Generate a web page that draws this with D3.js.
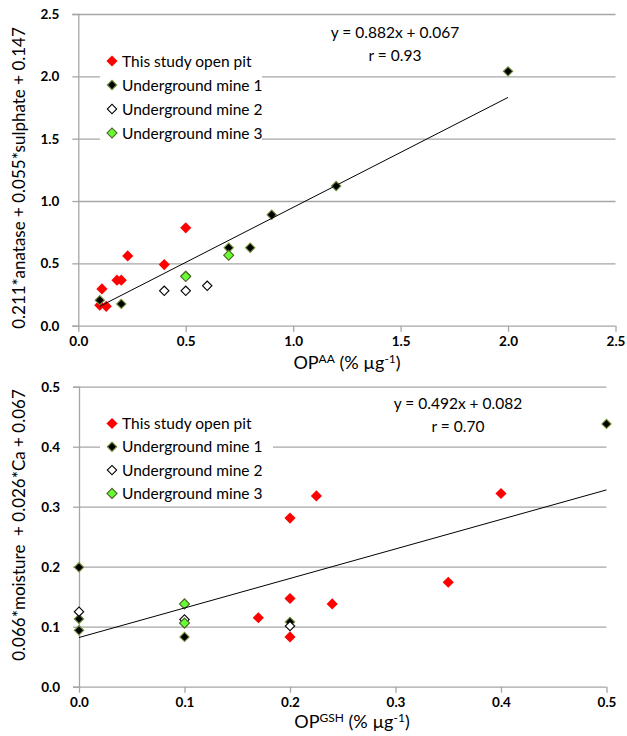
<!DOCTYPE html>
<html>
<head>
<meta charset="utf-8">
<script src="https://cdn.jsdelivr.net/npm/d3@7"></script>
<style>
  html, body { margin: 0; padding: 0; background: #fff; }
  svg { display: block; }
  text { font-family: Lato, "Open Sans", sans-serif; fill: #000; }
  .tick-label { font-weight: bold; font-size: 13.5px; }
</style>
</head>
<body>
<svg id="chart" width="627" height="736"></svg>
<script>
// ---- Panel A: OP(AA) vs anatase/sulphate model ----
const seriesNames = ["This study open pit", "Underground mine 1", "Underground mine 2", "Underground mine 3"];

const aaOpenPitX = [0.10, 0.11, 0.13, 0.18, 0.20, 0.23, 0.40, 0.50];
const aaOpenPitY = [0.165, 0.295, 0.155, 0.365, 0.365, 0.56, 0.49, 0.785];
const aaMine1X = [0.10, 0.20, 0.50, 0.70, 0.80, 0.90, 1.20, 2.00];
const aaMine1Y = [0.205, 0.175, 0.40, 0.625, 0.625, 0.89, 1.12, 2.04];
const aaMine2X = [0.40, 0.50, 0.60];
const aaMine2Y = [0.28, 0.28, 0.32];
const aaMine3X = [0.50, 0.70];
const aaMine3Y = [0.395, 0.565];
const aaFit = { slope: 0.882, intercept: 0.067, r: "0.93", xFrom: 0.1, xTo: 2.0 };
const aaTicks = [0, 0.5, 1.0, 1.5, 2.0, 2.5];

// ---- Panel B: OP(GSH) vs moisture/Ca model ----
const gshOpenPitX = [0.17, 0.20, 0.20, 0.20, 0.225, 0.24, 0.35, 0.40];
const gshOpenPitY = [0.115, 0.147, 0.083, 0.281, 0.318, 0.138, 0.174, 0.322];
const gshMine1X = [0.0, 0.0, 0.0, 0.1, 0.2, 0.5];
const gshMine1Y = [0.199, 0.113, 0.094, 0.083, 0.108, 0.438];
const gshMine2X = [0.0, 0.1, 0.2];
const gshMine2Y = [0.125, 0.112, 0.101];
const gshMine3X = [0.1, 0.1];
const gshMine3Y = [0.138, 0.106];
const gshFit = { slope: 0.492, intercept: 0.082, r: "0.70", xFrom: 0.0, xTo: 0.5 };
const gshTicks = [0, 0.1, 0.2, 0.3, 0.4, 0.5];

// marker styles per series
const styles = [
  { fill: "#ff0000", stroke: "none", size: 62 },
  { fill: "#000000", stroke: "#76923c", size: 44 },
  { fill: "#ffffff", stroke: "#000000", size: 44 },
  { fill: "#66ff33", stroke: "#4f6228", size: 50 }
];

const svg = d3.select("#chart");
const gridColor = "#a6a6a6";

function zip(xs, ys) { return xs.map((x, i) => ({ x, y: ys[i] })); }

function drawPanel(cfg) {
  const g = svg.append("g");
  const x = d3.scaleLinear().domain([cfg.ticks[0], cfg.ticks[cfg.ticks.length - 1]]).range(cfg.xRange);
  const y = d3.scaleLinear().domain([cfg.ticks[0], cfg.ticks[cfg.ticks.length - 1]]).range(cfg.yRange);

  // horizontal gridlines
  g.append("g").selectAll("line").data(cfg.ticks.slice(1)).join("line")
    .attr("x1", cfg.xRange[0]).attr("x2", cfg.xRange[1])
    .attr("y1", d => y(d) + 0.5).attr("y2", d => y(d) + 0.5)
    .attr("stroke", gridColor).attr("stroke-width", 1.3);

  // axes
  const xAxis = d3.axisBottom(x).tickValues(cfg.ticks).tickFormat(cfg.fmt).tickSize(6).tickPadding(5);
  const yAxis = d3.axisLeft(y).tickValues(cfg.ticks).tickFormat(cfg.fmt).tickSize(6).tickPadding(13);
  const gx = g.append("g").attr("transform", `translate(0,${cfg.yRange[0]})`).call(xAxis);
  const gy = g.append("g").attr("transform", `translate(${cfg.xRange[0]},0)`).call(yAxis);
  [gx, gy].forEach(a => {
    a.select(".domain").attr("stroke", gridColor).attr("stroke-width", 1.3);
    a.selectAll(".tick line").attr("stroke", gridColor).attr("stroke-width", 1.3);
    a.selectAll(".tick text").attr("class", "tick-label").attr("fill", "#000");
  });
  gx.select(".domain").attr("d", `M${cfg.xRange[0]},0.5H${cfg.xRange[1]}`);

  // legend box (white, covers gridlines)
  g.append("rect").attr("x", cfg.legend.x).attr("y", cfg.legend.y)
    .attr("width", cfg.legend.w).attr("height", cfg.legend.h).attr("fill", "#fff");

  // points
  const sym = d3.symbol().type(d3.symbolSquare);
  cfg.series.forEach((pts, si) => {
    const st = styles[si];
    g.append("g").selectAll("path").data(pts).join("path")
      .attr("d", sym.size(st.size)())
      .attr("transform", d => `translate(${x(d.x)},${y(d.y)}) rotate(45)`)
      .attr("fill", st.fill).attr("stroke", st.stroke).attr("stroke-width", 1.1);
  });

  // regression line
  const f = cfg.fit;
  g.append("line")
    .attr("x1", x(f.xFrom)).attr("y1", y(f.slope * f.xFrom + f.intercept))
    .attr("x2", x(f.xTo)).attr("y2", y(f.slope * f.xTo + f.intercept))
    .attr("stroke", "#000").attr("stroke-width", 1);

  // equation
  g.append("text").attr("x", cfg.eq.x).attr("y", cfg.eq.y).attr("text-anchor", "middle")
    .attr("font-size", 15.5)
    .text(`y = ${f.slope.toFixed(3)}x + ${f.intercept.toFixed(3)}`);
  g.append("text").attr("x", cfg.eq.x).attr("y", cfg.eq.y + 23).attr("text-anchor", "middle")
    .attr("font-size", 15.5)
    .text(`r = ${f.r}`);

  // legend entries
  seriesNames.forEach((name, i) => {
    const st = styles[i];
    const ly = cfg.legend.row0 + i * cfg.legend.step;
    g.append("path").attr("d", sym.size(st.size)())
      .attr("transform", `translate(${cfg.legend.mx},${ly}) rotate(45)`)
      .attr("fill", st.fill).attr("stroke", st.stroke).attr("stroke-width", 1.1);
    g.append("text").attr("x", cfg.legend.mx + 10).attr("y", ly + 5.5)
      .attr("font-size", 15.5).text(name);
  });

  // axis titles
  const xt = g.append("text").attr("x", cfg.xTitle.x).attr("y", cfg.xTitle.y)
    .attr("text-anchor", "middle").attr("font-size", 18);
  xt.append("tspan").text("OP");
  xt.append("tspan").attr("font-size", 12).attr("dy", -6).text(cfg.xTitle.sup);
  xt.append("tspan").attr("dy", 6).text(" (% µg");
  xt.append("tspan").attr("font-size", 12).attr("dy", -6).text("-1");
  xt.append("tspan").attr("dy", 6).text(")");

  g.append("text").attr("transform", `translate(${cfg.yTitle.x},${cfg.yTitle.y}) rotate(-90)`)
    .attr("text-anchor", "middle").attr("font-size", 17).attr("xml:space", "preserve")
    .text(cfg.yTitle.text);
}

drawPanel({
  ticks: aaTicks,
  fmt: d3.format(".1f"),
  xRange: [78.3, 615.5],
  yRange: [325.7, 14],
  series: [zip(aaOpenPitX, aaOpenPitY), zip(aaMine1X, aaMine1Y), zip(aaMine2X, aaMine2Y), zip(aaMine3X, aaMine3Y)],
  fit: aaFit,
  eq: { x: 395, y: 38 },
  legend: { x: 100, y: 46, w: 162, h: 100, mx: 112, row0: 61, step: 24 },
  xTitle: { x: 347, y: 369, sup: "AA" },
  yTitle: { x: 25, y: 178, text: "0.211*anatase + 0.055*sulphate + 0.147" }
});

drawPanel({
  ticks: gshTicks,
  fmt: d3.format(".1f"),
  xRange: [79, 606.5],
  yRange: [686.7, 386.7],
  series: [zip(gshOpenPitX, gshOpenPitY), zip(gshMine1X, gshMine1Y), zip(gshMine2X, gshMine2Y), zip(gshMine3X, gshMine3Y)],
  fit: gshFit,
  eq: { x: 458, y: 409 },
  legend: { x: 100, y: 410, w: 173, h: 95, mx: 112, row0: 423.5, step: 23.3 },
  xTitle: { x: 352, y: 728, sup: "GSH" },
  yTitle: { x: 25, y: 525, text: "0.066*moisture  + 0.026*Ca + 0.067" }
});
</script>
</body>
</html>
